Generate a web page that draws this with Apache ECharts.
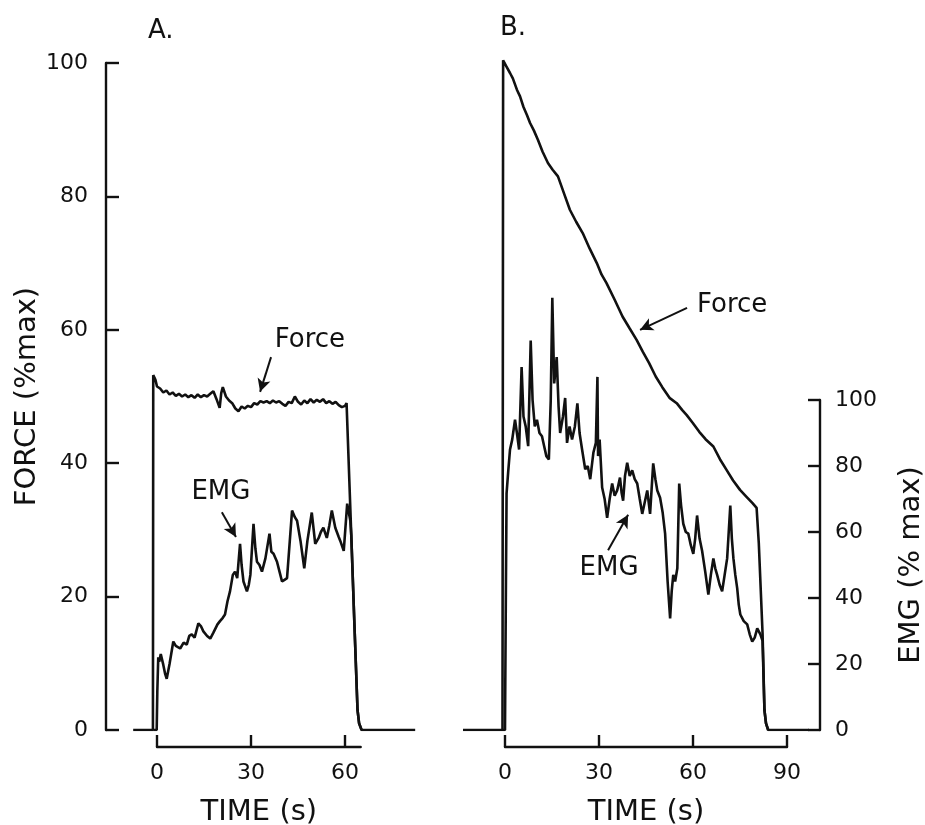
<!DOCTYPE html>
<html>
<head>
<meta charset="utf-8">
<title>Force and EMG</title>
<script src="https://cdn.jsdelivr.net/npm/echarts@6/dist/echarts.min.js"></script>
<style>
  html, body { margin: 0; padding: 0; background: #fff; }
  #chart { width: 925px; height: 825px; }
</style>
</head>
<body>
<div id="chart"></div>
<script>
// [time (s), force (%max)] - panel A, sustained ~50% contraction
const forceA = [
  [-7.6, 0], [-1.3, 0], [-1.2, 53.2], [-0.5, 52.5], [0, 51.5], [1, 51.2], [2, 50.6], [3, 50.9],
  [4, 50.3], [5, 50.6], [6, 50.1], [7, 50.4], [8, 50.0], [9, 50.3], [10, 49.9], [11, 50.2],
  [12, 49.8], [13, 50.3], [14, 49.9], [15, 50.2], [16, 50.0], [17, 50.4], [18, 50.8], [19, 49.6],
  [20, 48.3], [20.5, 50.5], [21, 51.4], [22, 50.0], [23, 49.4], [24, 49.0], [25, 48.2], [26, 47.8],
  [27, 48.5], [28, 48.2], [29, 48.6], [30, 48.4], [31, 49.0], [32, 48.8], [33, 49.3], [34, 49.1],
  [35, 49.3], [36, 49.0], [37, 49.4], [38, 49.1], [39, 49.3], [40, 48.9], [41, 48.6], [42, 49.2],
  [43, 49.0], [44, 50.0], [45, 49.2], [46, 48.8], [47, 49.4], [48, 49.0], [49, 49.6], [50, 49.1],
  [51, 49.5], [52, 49.2], [53, 49.6], [54, 49.0], [55, 49.3], [56, 48.9], [57, 49.2], [58, 48.7],
  [59, 48.4], [60, 48.6], [60.5, 49.0], [62, 29.3], [63, 16], [64, 3], [64.5, 1], [65.3, 0], [82.4, 0]
]

// [time (s), EMG (% max)] - panel A
const emgA = [
  [-1.2, 0], [-0.1, 0], [0.1, 11.6], [0.4, 22], [0.7, 20.7], [1.2, 23], [2, 19.8], [2.6, 17],
  [3.1, 15.5], [4, 20], [5.2, 26.8], [6, 25.5], [7.4, 24.7], [8.5, 26.5], [9.5, 25.9], [10.3, 28.5],
  [11.1, 29], [12, 28], [13.2, 32.3], [14, 31.5], [14.8, 29.9], [16, 28.5], [17, 27.7], [18, 29.5],
  [18.5, 29], [19.3, 32], [20.1, 33], [21, 34], [21.7, 35], [22.5, 39], [23.3, 42], [24.2, 47],
  [24.9, 48], [25.6, 46], [26.5, 56.4], [27, 50], [27.6, 45], [28.7, 42], [29.3, 44], [29.8, 47],
  [30.8, 62.5], [31.4, 55], [31.9, 51], [32.7, 50], [33.5, 48], [34.6, 52], [35.9, 59.5], [36.5, 54],
  [37.2, 53.4], [38.3, 51], [39.1, 48], [39.9, 45], [40.7, 45.5], [41.5, 46], [43.1, 66.5], [44, 64.5],
  [44.7, 63.4], [45.8, 57.3], [47, 49], [48, 57.3], [49.4, 65.9], [50.5, 56.4], [51.6, 58.2], [52.3, 60],
  [53.1, 61.3], [54.2, 58.2], [55, 62], [55.8, 66.5], [56.9, 61.3], [58, 58.5], [58.5, 57.3], [59.6, 54.3],
  [60.7, 68.6], [61.2, 66], [61.7, 63.4], [62, 59], [63, 32], [64, 6], [64.5, 2], [65.3, 0]
]

// [time (s), force (%max)] - panel B, maximal contraction
const forceB = [
  [-13.4, 0], [-0.8, 0], [-0.6, 100.4], [0.3, 99.6], [1.6, 98.5], [2.5, 97.7], [3.8, 96], [4.8, 95],
  [5.9, 93.4], [7, 92.2], [8, 91], [9.2, 89.9], [10.5, 88.5], [12, 86.7], [13.7, 85], [15.2, 84],
  [16.9, 83], [18.8, 80.5], [20.7, 78], [22.7, 76.2], [24.8, 74.5], [27, 72.2], [29.3, 70], [30.8, 68.3],
  [32.4, 67], [35, 64.5], [37.5, 62], [39.8, 60.2], [42, 58.5], [44, 56.7], [46, 55], [48.1, 53],
  [50.2, 51.4], [52.5, 49.8], [54.8, 49], [56.5, 48], [58, 47.2], [60, 46], [62, 44.7], [64, 43.6],
  [66.5, 42.5], [68.6, 40.6], [70.7, 39], [72.8, 37.4], [75, 36], [77, 35], [79, 34], [80.3, 33.3],
  [81, 28], [82.2, 14.5], [82.8, 3], [83.3, 1], [84, 0], [97, 0]
]

// [time (s), EMG (% max)] - panel B
const emgB = [
  [-0.7, 0], [0, 0], [0.3, 45], [0.5, 71.6], [1, 78], [1.6, 85], [2.3, 88], [3.2, 94],
  [3.8, 90], [4.5, 85], [5.3, 110], [5.9, 95], [6.6, 92], [7.4, 86], [8.2, 118], [8.8, 100],
  [9.5, 92], [10.2, 94], [11, 90], [11.8, 89], [12.5, 86], [13.2, 83], [14, 82], [14.6, 100],
  [15.1, 131], [15.7, 105], [16.5, 113], [17.1, 98], [17.6, 90], [18.5, 95], [19.2, 100.6], [19.8, 87],
  [20.6, 92], [21.4, 88], [22.3, 92], [23.1, 99], [23.8, 90], [24.6, 85], [25.6, 79], [26.4, 80],
  [27.2, 76], [28.2, 84], [29, 87], [29.5, 107], [29.7, 83], [30.2, 88], [31, 73.5], [31.8, 70],
  [32.6, 64.3], [33.4, 70], [34.2, 74.7], [35, 71], [35.8, 72.6], [36.7, 76.5], [37.2, 72], [37.7, 69.5],
  [38.3, 77], [39, 81], [39.8, 77], [40.6, 78.7], [41.4, 76], [42.2, 74.7], [43, 70], [43.8, 65.5],
  [44.6, 69], [45.4, 72.6], [46.3, 65.5], [47.3, 80.8], [48, 76], [48.6, 72.6], [49.5, 70.4], [50.3, 66],
  [51.1, 59.5], [51.9, 45], [52.7, 33.8], [53.2, 42], [53.7, 47], [54.3, 45], [55, 49], [55.6, 74.7],
  [56.2, 68], [56.9, 62.5], [57.7, 60], [58.5, 59.5], [59.3, 56], [60.1, 53.4], [60.7, 58], [61.3, 65],
  [62.1, 58], [62.9, 54.3], [63.9, 48], [64.9, 41], [65.7, 47], [66.5, 52], [67.1, 49], [67.7, 47],
  [68.5, 44], [69.3, 42], [70.1, 47], [70.9, 52], [71.4, 60], [71.9, 68], [72.4, 58], [72.9, 52],
  [73.5, 47], [74.1, 43], [74.6, 38], [75.1, 35], [76.2, 33], [77.3, 32], [78.1, 29], [78.9, 26.8],
  [79.7, 28], [80.5, 30.8], [81, 31], [81.5, 29], [82.2, 27], [82.8, 6], [83.3, 2], [84, 0]
]

const timeTicksA = [0, 30, 60]
const timeTicksB = [0, 30, 60, 90]
const forceTicks = [0, 20, 40, 60, 80, 100]
const emgTicks = [0, 20, 40, 60, 80, 100]

const ink = '#111'
const font = 'DejaVu Sans'

// scale shared by both panels
const pxPerSec = 94 / 30
const pxPerForce = 667 / 100
const pxPerEmg = 330 / 100
const baseY = 730
const dataTop = 43
const dataH = baseY - dataTop

const lineStyle = { color: ink, width: 2.4 }
const traceStyle = { color: ink, width: 2.6 }
const tickText = { fontSize: 22, color: ink, fontFamily: font }
const nameText = { fontSize: 29, color: ink, fontFamily: font }

function arrow(from, to) {
  return {
    silent: true,
    symbol: ['none', 'arrow'],
    symbolSize: [10, 13],
    label: { show: false },
    lineStyle: { color: ink, width: 2, type: 'solid' },
    data: [[{ coord: from }, { coord: to }]]
  }
}

function note(text, at) {
  return {
    silent: true,
    data: [{
      coord: at,
      symbol: 'circle',
      symbolSize: 1,
      itemStyle: { color: 'transparent' },
      label: { show: true, position: 'inside', formatter: text, fontSize: 26, color: ink, fontFamily: font }
    }]
  }
}

function hiddenAxis(gridIndex, min, max) {
  return { gridIndex, type: 'value', min, max, show: false }
}

function grid(left, width, top, height) {
  return { left, width, top, height, outerBoundsMode: 'none', containLabel: false }
}

// a data grid covering time tMin..tMax, with time 0 at pixel x0
function dataGrid(x0, tMin, tMax) {
  return grid(x0 + tMin * pxPerSec, (tMax - tMin) * pxPerSec, dataTop, dataH)
}

function trace(name, data, xIndex, yIndex, extra) {
  return Object.assign({
    name,
    type: 'line',
    data,
    xAxisIndex: xIndex,
    yAxisIndex: yIndex,
    symbol: 'none',
    lineStyle: traceStyle,
    z: 3
  }, extra)
}

function shownAxis(extra) {
  return Object.assign({
    type: 'value',
    axisLine: { show: true, onZero: false, lineStyle },
    splitLine: { show: false }
  }, extra)
}

function getOption() {
  return {
    animation: false,
    backgroundColor: '#fff',
    title: [
      { text: 'A.', left: 148, top: 18, padding: 0, textStyle: { fontSize: 26, fontWeight: 'normal', color: ink, fontFamily: font } },
      { text: 'B.', left: 500, top: 15, padding: 0, textStyle: { fontSize: 26, fontWeight: 'normal', color: ink, fontFamily: font } }
    ],
    grid: [
      grid(157, 65 * pxPerSec, 63, 667),
      grid(505, 90 * pxPerSec, 63, 667),
      grid(505, 90 * pxPerSec, 400, 330),
      dataGrid(157, -10, 85),
      dataGrid(505, -15, 100)
    ],
    xAxis: [
      shownAxis({
        gridIndex: 0, min: 0, max: 65, position: 'bottom', offset: 17,
        axisTick: { show: true, inside: true, length: 12, lineStyle, customValues: timeTicksA },
        axisLabel: { margin: 15, customValues: timeTicksA, ...tickText },
        name: 'TIME (s)', nameLocation: 'middle', nameGap: 51, nameTextStyle: nameText
      }),
      shownAxis({
        gridIndex: 1, min: 0, max: 90, position: 'bottom', offset: 17,
        axisTick: { show: true, inside: true, length: 12, lineStyle, customValues: timeTicksB },
        axisLabel: { margin: 15, customValues: timeTicksB, ...tickText },
        name: 'TIME (s)', nameLocation: 'middle', nameGap: 51, nameTextStyle: nameText
      }),
      hiddenAxis(2, 0, 90),
      hiddenAxis(3, -10, 85),
      hiddenAxis(4, -15, 100)
    ],
    yAxis: [
      shownAxis({
        gridIndex: 0, min: 0, max: 100, position: 'left', offset: 51,
        axisTick: { show: true, inside: true, length: 13, lineStyle, customValues: forceTicks },
        axisLabel: { margin: 18, customValues: forceTicks, ...tickText },
        name: 'FORCE (%max)', nameLocation: 'middle', nameGap: 64, nameTextStyle: nameText
      }),
      hiddenAxis(1, 0, 100),
      shownAxis({
        gridIndex: 2, min: 0, max: 100, position: 'right', offset: 33,
        axisTick: { show: true, inside: true, length: 12, lineStyle, customValues: emgTicks },
        axisLabel: { margin: 15, customValues: emgTicks, ...tickText },
        name: 'EMG (% max)', nameLocation: 'middle', nameGap: 77, nameRotate: 90, nameTextStyle: nameText
      }),
      hiddenAxis(3, 0, dataH / pxPerForce),
      hiddenAxis(3, 0, dataH / pxPerEmg),
      hiddenAxis(4, 0, dataH / pxPerForce),
      hiddenAxis(4, 0, dataH / pxPerEmg)
    ],
    series: [
      trace('Force A', forceA, 3, 3, {
        markLine: arrow([36.4, 55.9], [32.9, 50.7]),
        markPoint: note('Force', [48.8, 58.5])
      }),
      trace('EMG A', emgA, 3, 4, {
        markLine: arrow([20.7, 66], [25.2, 58.5]),
        markPoint: note('EMG', [20.4, 72.1])
      }),
      trace('Force B', forceB, 4, 5, {
        markLine: arrow([58.1, 63.3], [43.1, 60]),
        markPoint: note('Force', [72.5, 63.7])
      }),
      trace('EMG B', emgB, 4, 6, {
        markLine: arrow([32.9, 54.5], [39.3, 65.2]),
        markPoint: note('EMG', [33.2, 49.1])
      })
    ]
  }
}

const chart = echarts.init(document.getElementById('chart'))
chart.setOption(getOption())
window.addEventListener('resize', () => chart.resize())
</script>
</body>
</html>
